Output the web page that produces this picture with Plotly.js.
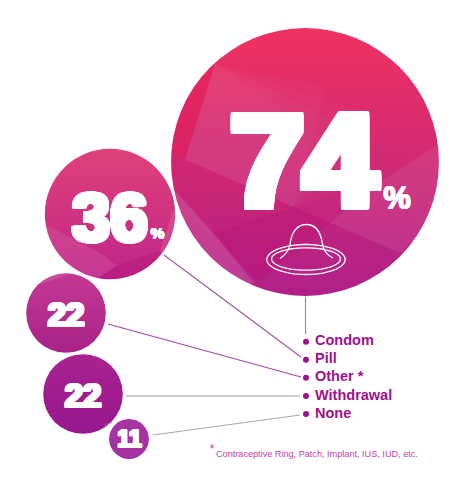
<!DOCTYPE html>
<html><head><meta charset="utf-8">
<script src="https://cdn.plot.ly/plotly-3.0.1.min.js"></script>
<style>html,body{margin:0;padding:0;background:#fff}</style></head>
<body><div id="chart" style="width:465px;height:480px"></div>
<script>
// ---- chart values ----
const categories = ['Condom','Pill','Other *','Withdrawal','None'];
const values = [74,36,22,22,11];
const valueLabels = ['74','36','22','22','11'];
const footnote = 'Contraceptive Ring, Patch, Implant, IUS, IUD, etc.';

// ---- layout of the bubbles ----
const bubbleX = [305,110,66,83,129];
const bubbleY = [162,214,313,394,439];
const topColors = ['#f03160','#e0417a','#c43892','#a9228f','#a835a2'];
const bottomColors = ['#b1228b','#bf2589','#a82388','#97178e','#a2309f'];
const labelX = [303.5,110,66,83,129.5];
const labelY = [174,224,317.5,398.5,441];
const labelSize = [131,68,33,33,23];
const labelStrokeX = [5.5,2.6,1.5,1.5,1.2];
const labelStrokeY = [3.5,1.8,1,1,1];
const legendX = 306, legendTextX = 315;
const legendY = [341.7,359.7,377.7,396,414];
const pxPerUnit = 3.62;

const z1 = p => [170+p[0]/3, 40+p[1]/3];
const z2 = p => [20+p[0]/3, 140+p[1]/3];

function circlePoly(cx,cy,r){const o=[];for(let i=0;i<180;i++){const a=i/180*2*Math.PI;o.push([cx+r*Math.cos(a),cy+r*Math.sin(a)]);}return o;}
function clip(subject,poly){
  let area=0;for(let i=0;i<poly.length;i++){const a=poly[i],b=poly[(i+1)%poly.length];area+=a[0]*b[1]-b[0]*a[1];}
  const sign=area>0?1:-1;
  let out=subject;
  for(let i=0;i<poly.length;i++){
    const A=poly[i],B=poly[(i+1)%poly.length];const inp=out;out=[];
    const side=p=>sign*((B[0]-A[0])*(p[1]-A[1])-(B[1]-A[1])*(p[0]-A[0]));
    for(let j=0;j<inp.length;j++){
      const P=inp[j],Q=inp[(j+1)%inp.length];const sp=side(P),sq=side(Q);
      if(sp>=0)out.push(P);
      if((sp>=0)!==(sq>=0)){const t=sp/(sp-sq);out.push([P[0]+t*(Q[0]-P[0]),P[1]+t*(Q[1]-P[1])]);}
    }
  }
  return out;
}
const fade='rgba(255,255,255,0.022)';
const facets = [
 [0,z1,'rgba(230,20,70,0.30)',[[135,70],[-10,80],[-10,340],[45,358]]],
 [0,z1,fade,[[135,72],[45,358],[370,500],[640,420]]],
 [0,z1,fade,[[135,72],[45,358],[370,500],[620,300]]],
 [0,z1,fade,[[135,72],[45,358],[370,500],[560,210]]],
 [0,z1,fade,[[135,72],[45,358],[370,500],[470,140]]],
 [0,z1,'rgba(200,20,100,0.14)',[[-10,340],[370,500],[130,580],[15,440]]],
 [0,z1,'rgba(255,255,255,0.12)',[[15,440],[130,580],[262,726],[100,760],[-10,600]]],
 [0,z1,'rgba(185,10,105,0.30)',[[130,580],[370,500],[480,548],[262,726]]],
 [0,z1,'rgba(255,255,255,0.07)',[[480,548],[640,420],[830,295],[830,500],[690,640]]],
 [0,z1,'rgba(180,20,130,0.10)',[[262,726],[480,548],[690,640],[620,800],[300,800]]],
 [1,z2,'rgba(255,255,255,0.09)',[[70,215],[240,340],[300,372],[220,420],[60,420]]],
 [1,z2,'rgba(175,10,110,0.24)',[[300,372],[420,333],[390,430],[225,420]]],
 [1,z2,'rgba(255,255,255,0.12)',[[420,333],[470,180],[480,340]]],
 [2,z2,'rgba(255,255,255,0.10)',[[10,450],[175,393],[100,370],[0,400]]],
 [3,z2,'rgba(255,255,255,0.11)',[[305,725],[255,850],[150,868],[150,900],[330,900],[330,725]]]
];
const circles = bubbleX.map((x,i)=>circlePoly(x,bubbleY[i],values[i]*pxPerUnit/2));
const facetTraces = facets.map(f=>{
  const pts=clip(circles[f[0]],f[3].map(p=>f[1](p)));
  if(!pts.length) return null;
  return {x:pts.map(p=>p[0]).concat(pts[0][0]),y:pts.map(p=>p[1]).concat(pts[0][1]),mode:'lines',fill:'toself',
    fillcolor:f[2],line:{width:0,color:'rgba(0,0,0,0)'},hoverinfo:'skip',showlegend:false};
}).filter(Boolean);

const connectors = [
 {x:[305.5,305.5],y:[297,334],color:'#b46cc0',w:1.1},
 {x:[164,301],y:[255,357],color:'#a84cb0',w:1.1},
 {x:[108,301],y:[324,377],color:'#ab44b0',w:1.1},
 {x:[126,300],y:[396,396],color:'#bcbcbc',w:1.3},
 {x:[153,300],y:[435,415],color:'#a8a8a8',w:1.1}
];
const lineTraces = connectors.map(c=>({x:c.x,y:c.y,mode:'lines',line:{color:c.color,width:c.w},hoverinfo:'skip',showlegend:false}));

function arcPts(cx,cy,rx,ry,a0,a1){const o=[];const n=48;for(let i=0;i<=n;i++){const a=(a0+(a1-a0)*i/n)*Math.PI/180;o.push([cx+rx*Math.cos(a),cy+ry*Math.sin(a)]);}return o;}
function toPath(pts){return 'M'+pts.map(p=>p[0].toFixed(2)+','+p[1].toFixed(2)).join('L');}
const iconLine={color:'#ffffff',width:1.3};
const iconShape=(path)=>({type:'path',xref:'x',yref:'y',layer:'above',path,line:iconLine});
const icon=[
 iconShape(toPath(arcPts(306,259.5,39.2,15,-112,292))),
 iconShape(toPath(arcPts(306,259,34.5,11.2,-122,302))),
 iconShape('M280,258.5 C285,255 289,251 290,245 C291,234 296,224.5 306.5,224.5 C317,224.5 321,234 322.5,244 C323.5,251 327,255 333,258')
];

// square-cornered thickening of the numerals
const heavy=(nx,ny)=>{const s=[];const sx=Math.ceil(nx),sy=Math.ceil(ny);
  for(let i=-sx;i<=sx;i++)for(let j=-sy;j<=sy;j++){s.push((nx*i/sx).toFixed(2)+'px '+(ny*j/sy).toFixed(2)+'px 0 #fff');}
  return s.join(',');};
const numberTraces = values.map((v,i)=>({x:[labelX[i]],y:[labelY[i]],mode:'text',text:[valueLabels[i]],textposition:'middle center',
  textfont:{family:'"Liberation Sans"',size:labelSize[i],color:'#fff',weight:'bold',shadow:heavy(labelStrokeX[i],labelStrokeY[i])},hoverinfo:'skip',showlegend:false}));
const pctTraces=[
 {x:[397],y:[201],size:31,sh:0.5},
 {x:[157.5],y:[234.5],size:15.5,sh:0.3}
].map(p=>({x:p.x,y:p.y,mode:'text',text:['%'],textposition:'middle center',
  textfont:{family:'"Liberation Sans"',size:p.size,color:'#fff',weight:'bold',shadow:heavy(p.sh,p.sh)},hoverinfo:'skip',showlegend:false}));

const traces=[
 ...lineTraces,
 {x:bubbleX,y:bubbleY,mode:'markers',hoverinfo:'skip',showlegend:false,
  marker:{size:values,sizemode:'diameter',sizeref:1/pxPerUnit,color:topColors,line:{width:0},
    gradient:{type:'vertical',color:bottomColors},opacity:1}},
 ...facetTraces,
 ...numberTraces,
 ...pctTraces,
 {x:categories.map(()=>legendX),y:legendY,mode:'markers',marker:{size:6,color:'#a0108c'},hoverinfo:'skip',showlegend:false},
 {x:categories.map(()=>legendTextX),y:legendY,mode:'text',text:categories,textposition:'middle right',
  textfont:{family:'"Liberation Sans"',size:14.5,color:'#a0108c',weight:'bold'},hoverinfo:'skip',showlegend:false},
 {x:[212],y:[450],mode:'text',text:['*'],textposition:'middle center',textfont:{family:'"Liberation Sans"',size:12,color:'#c9359f'},hoverinfo:'skip',showlegend:false},
 {x:[216],y:[455],mode:'text',text:[footnote],textposition:'middle right',textfont:{family:'"Liberation Sans"',size:9.15,color:'#c9409f'},hoverinfo:'skip',showlegend:false}
];
const axis={visible:false,fixedrange:true,showgrid:false,zeroline:false};
Plotly.newPlot('chart',traces,{
  width:465,height:480,margin:{l:0,r:0,t:0,b:0},paper_bgcolor:'#fff',plot_bgcolor:'#fff',showlegend:false,
  xaxis:{...axis,range:[0,465]},yaxis:{...axis,range:[480,0]},shapes:icon
},{displayModeBar:false,staticPlot:true});
</script></body></html>
